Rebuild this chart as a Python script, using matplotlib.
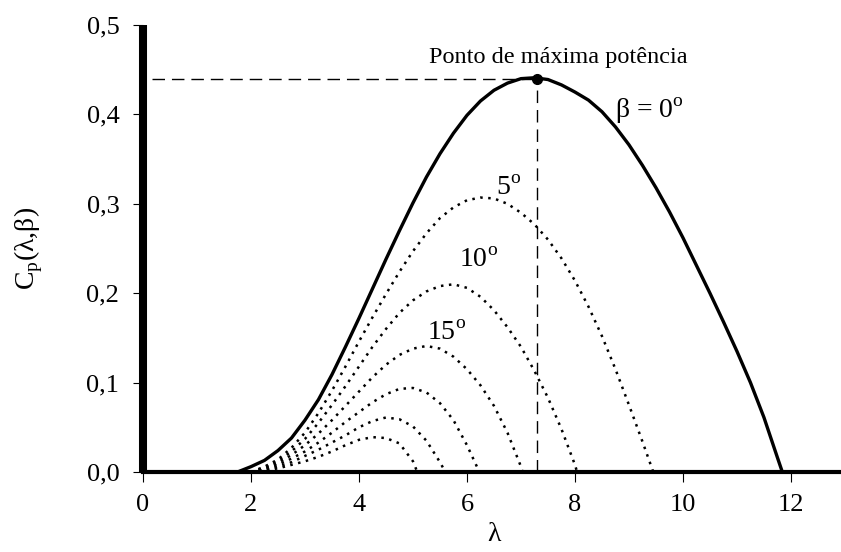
import numpy as np
import matplotlib
matplotlib.use("Agg")
import matplotlib.pyplot as plt

plt.rcParams['font.family'] = ['Liberation Serif', 'DejaVu Serif']
plt.rcParams['mathtext.fontset'] = 'custom'
plt.rcParams['mathtext.rm'] = 'Liberation Serif'

# beta = 0 (solid)
lam_0 = [1.75, 2.0, 2.25, 2.5, 2.75, 3.0, 3.25, 3.5, 3.75, 4.0, 4.25, 4.5, 4.75, 5.0,
         5.25, 5.5, 5.75, 6.0, 6.25, 6.5, 6.75, 7.0, 7.25, 7.5, 7.75, 8.0, 8.25, 8.5,
         8.75, 9.0, 9.25, 9.5, 9.75, 10.0, 10.25, 10.5, 10.75, 11.0, 11.25, 11.5,
         11.75, 11.84]
cp_0 = [0.0, 0.006, 0.013, 0.024, 0.038, 0.058, 0.081, 0.109, 0.140, 0.172, 0.205, 0.238,
        0.270, 0.301, 0.330, 0.356, 0.379, 0.399, 0.415, 0.427, 0.435, 0.440, 0.441,
        0.439, 0.433, 0.425, 0.416, 0.403, 0.386, 0.366, 0.343, 0.318, 0.291, 0.262,
        0.231, 0.200, 0.168, 0.135, 0.100, 0.061, 0.016, 0.0]

# dotted curves, beta = 5..30 degrees
lam_5 = [2.0, 2.25, 2.5, 2.75, 3.0, 3.25, 3.5, 3.75, 4.0, 4.25, 4.5, 4.75, 5.0, 5.25,
         5.5, 5.75, 6.0, 6.25, 6.5, 6.75, 7.0, 7.25, 7.5, 7.75, 8.0, 8.25, 8.5, 8.75,
         9.0, 9.25, 9.45]
cp_5 = [0.0, 0.006, 0.014, 0.027, 0.044, 0.066, 0.091, 0.118, 0.146, 0.173, 0.199, 0.224,
        0.247, 0.267, 0.284, 0.296, 0.304, 0.307, 0.306, 0.300, 0.290, 0.277, 0.260,
        0.239, 0.214, 0.185, 0.152, 0.115, 0.075, 0.034, 0.0]

lam_10 = [2.0, 2.25, 2.5, 2.75, 3.0, 3.25, 3.5, 3.75, 4.0, 4.25, 4.5, 4.75, 5.0, 5.25,
          5.5, 5.75, 6.0, 6.25, 6.5, 6.75, 7.0, 7.25, 7.5, 7.75, 8.0, 8.04]
cp_10 = [0.0, 0.005, 0.012, 0.023, 0.037, 0.055, 0.075, 0.096, 0.118, 0.140, 0.160, 0.178,
         0.192, 0.202, 0.208, 0.210, 0.206, 0.196, 0.181, 0.162, 0.140, 0.113, 0.083,
         0.048, 0.008, 0.0]

lam_15 = [2.0, 2.25, 2.5, 2.75, 3.0, 3.25, 3.5, 3.75, 4.0, 4.25, 4.5, 4.75, 5.0, 5.25,
          5.5, 5.75, 6.0, 6.25, 6.5, 6.75, 7.0, 7.03]
cp_15 = [0.0, 0.004, 0.010, 0.019, 0.030, 0.043, 0.058, 0.074, 0.090, 0.106, 0.120, 0.131,
         0.138, 0.141, 0.138, 0.129, 0.115, 0.097, 0.074, 0.044, 0.006, 0.0]

lam_20 = [2.0, 2.25, 2.5, 2.75, 3.0, 3.25, 3.5, 3.75, 4.0, 4.25, 4.5, 4.75, 5.0, 5.25,
          5.5, 5.75, 6.0, 6.23]
cp_20 = [0.0, 0.003, 0.008, 0.015, 0.023, 0.033, 0.044, 0.056, 0.067, 0.078, 0.087, 0.093,
         0.094, 0.089, 0.077, 0.058, 0.030, 0.0]

lam_25 = [2.0, 2.25, 2.5, 2.75, 3.0, 3.25, 3.5, 3.75, 4.0, 4.25, 4.5, 4.75, 5.0, 5.25,
          5.5, 5.6]
cp_25 = [0.0, 0.002, 0.006, 0.011, 0.018, 0.025, 0.033, 0.041, 0.050, 0.057, 0.061, 0.059,
         0.051, 0.035, 0.011, 0.0]

lam_30 = [2.0, 2.25, 2.5, 2.75, 3.0, 3.25, 3.5, 3.75, 4.0, 4.25, 4.5, 4.75, 5.0, 5.08]
cp_30 = [0.0, 0.002, 0.004, 0.008, 0.012, 0.017, 0.023, 0.030, 0.036, 0.039, 0.038, 0.032,
         0.012, 0.0]

dotted = [(lam_5, cp_5), (lam_10, cp_10), (lam_15, cp_15), (lam_20, cp_20),
          (lam_25, cp_25), (lam_30, cp_30)]

lam_max = 7.3
cp_max = 0.44

fig = plt.figure(figsize=(8.41, 5.52), dpi=100)
ax = fig.add_axes([0.170, 0.1449, 702 / 841, 0.8098])

for lx, cy in dotted:
    ax.plot(lx, cy, color='black', lw=1.8, linestyle=(0, (1, 2.2)))

ax.plot(lam_0, cp_0, color='black', lw=2.4, solid_capstyle='butt')

# maximum power point
ax.plot([0.17, lam_max], [cp_max, cp_max], color='black', lw=1.0, linestyle=(0, (9, 5)))
ax.plot([lam_max, lam_max], [0, cp_max], color='black', lw=1.0, linestyle=(0, (9, 5)))
ax.plot(lam_max, cp_max, 'o', color='black', markersize=7)

ax.text(7.7, 0.4575, 'Ponto de máxima potência', fontsize=17.5, ha='center', va='baseline')
ax.text(8.74, 0.396, 'β = 0$^{\\mathrm{o}}$', fontsize=20, ha='left', va='baseline')
ax.text(6.54, 0.310, '5$^{\\mathrm{o}}$', fontsize=20, ha='left', va='baseline')
ax.text(5.85, 0.2296, '10$^{\\mathrm{o}}$', fontsize=20, ha='left', va='baseline')
ax.text(5.26, 0.148, '15$^{\\mathrm{o}}$', fontsize=20, ha='left', va='baseline')

ax.set_xlim(0, 13)
ax.set_ylim(0, 0.5)
ax.set_xticks([0, 2, 4, 6, 8, 10, 12])
ax.set_yticks([0.0, 0.1, 0.2, 0.3, 0.4, 0.5])
ax.set_yticklabels(['0,0', '0,1', '0,2', '0,3', '0,4', '0,5'])
ax.tick_params(labelsize=19, length=7, width=0.8, direction='out')
ax.tick_params(axis='y', pad=10)
ax.tick_params(axis='x', pad=9)

ax.spines['top'].set_visible(False)
ax.spines['right'].set_visible(False)
ax.spines['left'].set_linewidth(5.8)
ax.spines['bottom'].set_linewidth(3.0)
ax.spines['left'].set_capstyle('butt')

ax.set_xlabel('λ', fontsize=20, labelpad=4)
ax.set_ylabel('C$_{\\mathrm{p}}$(λ,β)', fontsize=20)
ax.yaxis.set_label_coords(-0.1396, 0.5)

fig.savefig('out.png', dpi=100)
